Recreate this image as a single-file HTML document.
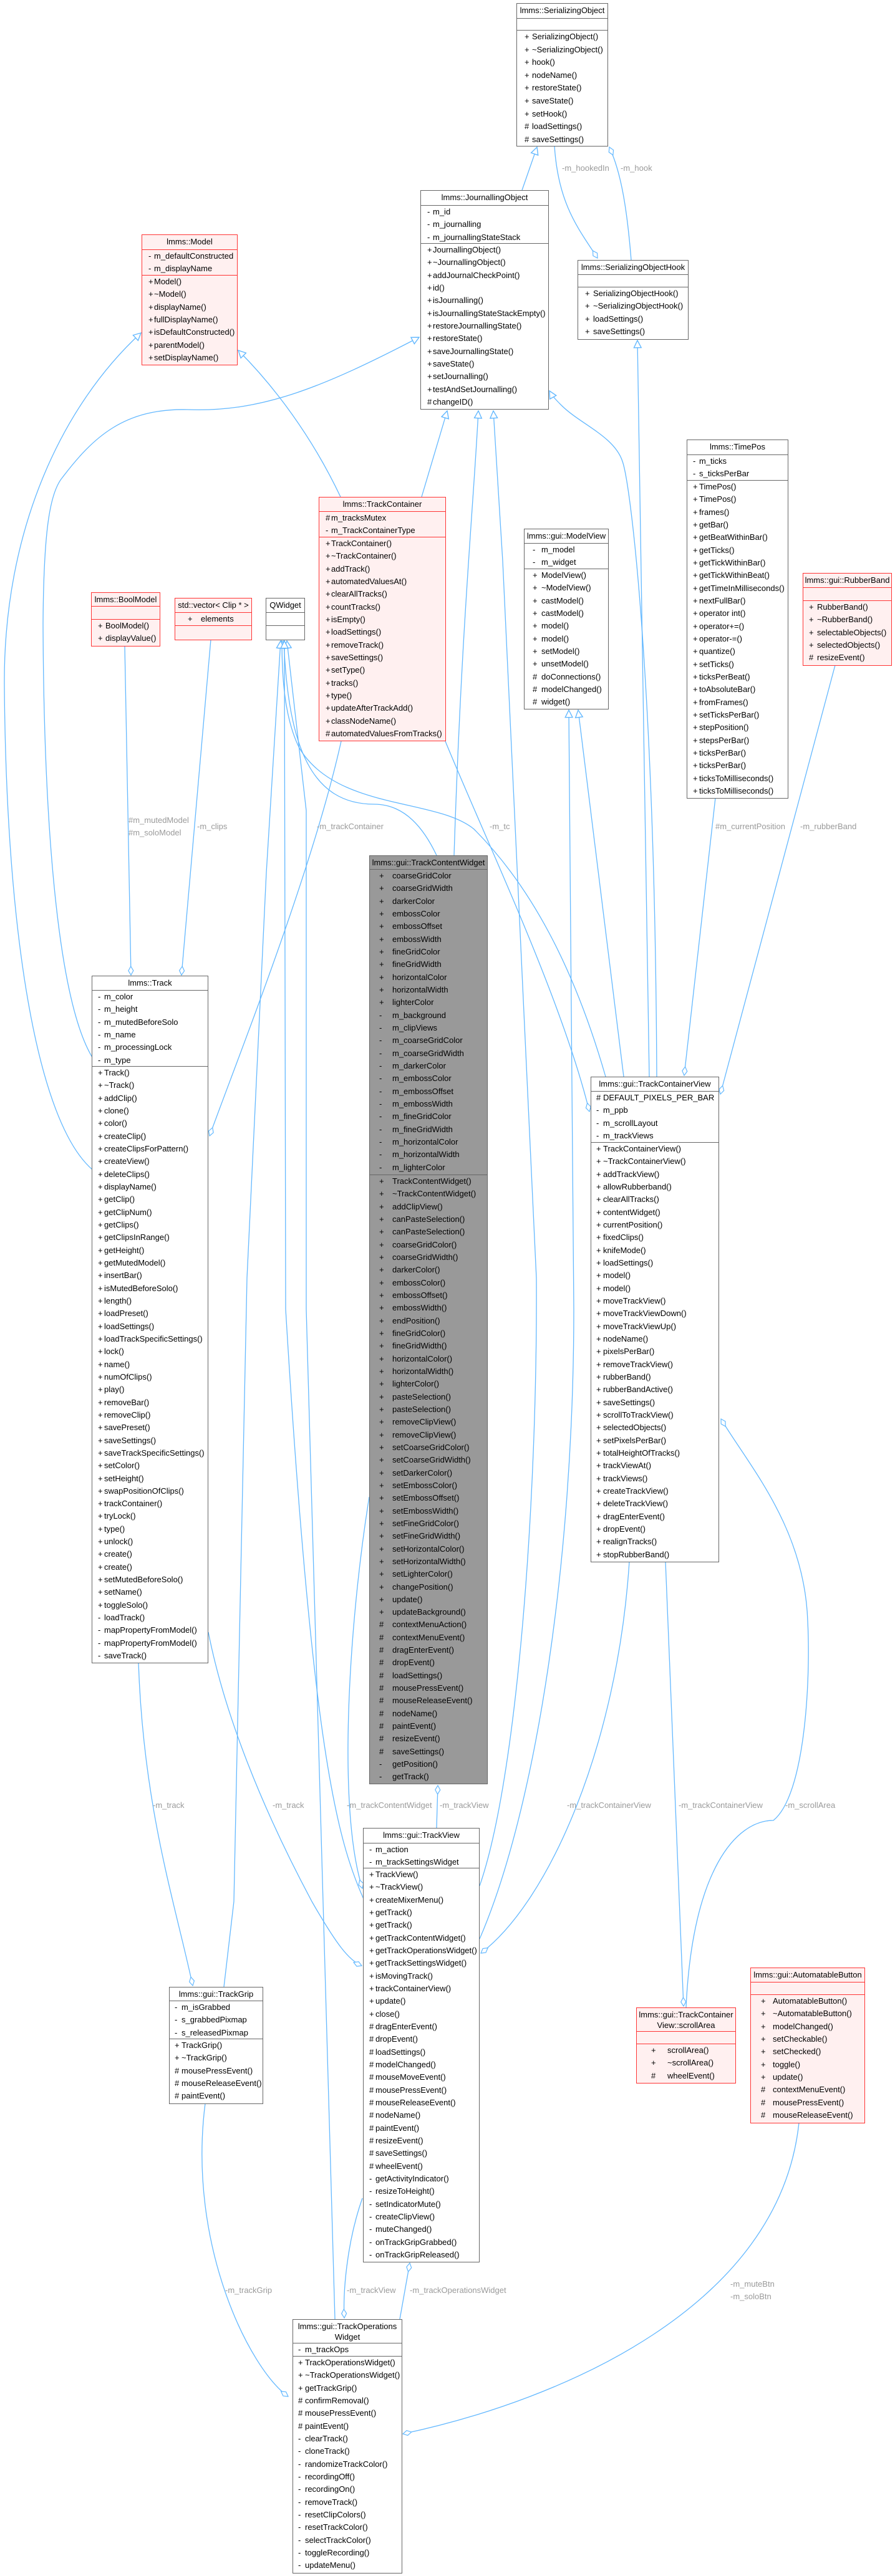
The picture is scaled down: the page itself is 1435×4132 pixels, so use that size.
<!DOCTYPE html>
<html><head><meta charset="utf-8"><style>
html,body{margin:0;padding:0;background:#fff;}
body{width:1435px;height:4132px;position:relative;overflow:hidden;font-family:"Liberation Sans",sans-serif;font-size:13px;color:#000;}
svg{position:absolute;left:0;top:0;}
.b{position:absolute;box-sizing:border-box;border:1.5px solid #666;background:#fff;overflow:hidden;--p:9px;--t:19px;--r:20.33px;}
.red{border-color:#f33;background:#fff0f0;}
.red .h,.red .s{border-color:#f33;}
.gray{background:#999;}
.h{text-align:center;border-bottom:1.5px solid #666;box-sizing:border-box;line-height:21px;white-space:nowrap;}
.s{border-bottom:1.5px solid #666;box-sizing:border-box;}
.s:last-child{border-bottom:none;}
.s div{height:var(--r);line-height:var(--r);white-space:nowrap;position:relative;padding-left:var(--t);}
.s div i{position:absolute;left:var(--p);font-style:normal;}
.lb{position:absolute;color:#9a9a9a;font-size:13px;white-space:nowrap;}
</style></head><body>
<svg width="1435" height="4132" viewBox="0 0 1435 4132">
<defs>
<marker id="tri" viewBox="0 0 12 12" refX="11" refY="6" markerWidth="14" markerHeight="14" markerUnits="userSpaceOnUse" orient="auto"><path d="M1,1 L11,6 L1,11 z" fill="#fff" stroke="#63b8ff" stroke-width="1.2"/></marker>
<marker id="dia" viewBox="0 0 16 10" refX="15" refY="5" markerWidth="16" markerHeight="10" markerUnits="userSpaceOnUse" orient="auto"><path d="M1,5 L8,1 L15,5 L8,9 z" fill="#fff" stroke="#63b8ff" stroke-width="1.2"/></marker>
</defs>
<g fill="none" stroke="#63b8ff" stroke-width="1.3">
<path d="M837,305 L861,236" marker-end="url(#tri)"/>
<path d="M889,234 C895,330 930,370 958,414" marker-end="url(#dia)"/>
<path d="M1012,417 C1005,330 995,275 977,236" marker-end="url(#dia)"/>
<path d="M1041,1727 C1036,1200 1028,800 1022,546" marker-end="url(#tri)"/>
<path d="M1053,1727 C1050,1100 1012,780 998,740 C985,700 930,680 900,650 C892,642 886,636 881,627" marker-end="url(#tri)"/>
<path d="M676,797 L717,659" marker-end="url(#tri)"/>
<path d="M546,797 C500,700 440,620 382,562" marker-end="url(#tri)"/>
<path d="M148,1876 C60,1800 10,1500 7,1100 C5,850 100,650 226,534" marker-end="url(#tri)"/>
<path d="M148,1696 C90,1600 70,1300 69,1000 C70,850 80,790 100,766 C150,700 200,655 300,657 C420,662 520,620 672,541" marker-end="url(#tri)"/>
<path d="M728,1372 C740,1000 760,800 767,659" marker-end="url(#tri)"/>
<path d="M769,3025 C830,2850 862,2400 860,2050 L806,900 L791,659" marker-end="url(#tri)"/>
<path d="M1000,1727 L927,1139" marker-end="url(#tri)"/>
<path d="M769,3110 C860,2900 920,2500 920,2100 L912,1139" marker-end="url(#tri)"/>
<path d="M700,1372 C680,1330 650,1290 600,1290 C500,1290 462,1200 455,1028" marker-end="url(#tri)"/>
<path d="M971,1727 C920,1550 850,1420 760,1330 C700,1280 540,1300 480,1200 C455,1150 452,1080 452,1028" marker-end="url(#tri)"/>
<path d="M359,3187 L375,3050 L396,2050 L427,1400 L450,1028" marker-end="url(#tri)"/>
<path d="M537,3720 L491,2100 L491,1300 L460,1028" marker-end="url(#tri)"/>
<path d="M583,3046 C540,2950 500,2800 458,2100 L456,1028" marker-end="url(#tri)"/>
<path d="M200,1036 L210,1564" marker-end="url(#dia)"/>
<path d="M338,1026 L291,1564" marker-end="url(#dia)"/>
<path d="M547,1189 C500,1400 380,1700 336,1822" marker-end="url(#dia)"/>
<path d="M714,1189 C780,1350 900,1600 945,1783" marker-end="url(#dia)"/>
<path d="M1147,1280 L1097,1725" marker-end="url(#dia)"/>
<path d="M1339,1067 L1155,1755" marker-end="url(#dia)"/>
<path d="M222,2667 C230,2900 280,3050 309,3185" marker-end="url(#dia)"/>
<path d="M334,2618 C360,2750 420,2900 500,3050 C540,3120 560,3145 580,3153" marker-end="url(#dia)"/>
<path d="M592,2401 C560,2600 540,2900 581,3029" marker-end="url(#dia)"/>
<path d="M700,2932 L702,2864" marker-end="url(#dia)"/>
<path d="M1009,2505 C990,2800 880,3050 771,3133" marker-end="url(#dia)"/>
<path d="M1067,2505 L1096,3218" marker-end="url(#dia)"/>
<path d="M1100,3220 C1110,3000 1180,2920 1240,2920 C1290,2880 1300,2700 1295,2600 C1290,2450 1200,2350 1156,2276" marker-end="url(#dia)"/>
<path d="M329,3374 C300,3600 400,3800 462,3844" marker-end="url(#dia)"/>
<path d="M581,3526 C555,3600 550,3680 552,3718" marker-end="url(#dia)"/>
<path d="M641,3720 L657,3630" marker-end="url(#dia)"/>
<path d="M1281,3405 C1250,3700 900,3850 646,3904" marker-end="url(#dia)"/>
</g>
</svg>

<div class="lb" style="left:901px;top:262px">-m_hookedIn</div>
<div class="lb" style="left:995px;top:262px">-m_hook</div>
<div class="lb" style="left:206px;top:1308px">#m_mutedModel</div>
<div class="lb" style="left:206px;top:1328px">#m_soloModel</div>
<div class="lb" style="left:316px;top:1318px">-m_clips</div>
<div class="lb" style="left:508px;top:1318px">-m_trackContainer</div>
<div class="lb" style="left:785px;top:1318px">-m_tc</div>
<div class="lb" style="left:1147px;top:1318px">#m_currentPosition</div>
<div class="lb" style="left:1283px;top:1318px">-m_rubberBand</div>
<div class="lb" style="left:245px;top:2888px">-m_track</div>
<div class="lb" style="left:437px;top:2888px">-m_track</div>
<div class="lb" style="left:556px;top:2888px">-m_trackContentWidget</div>
<div class="lb" style="left:705px;top:2888px">-m_trackView</div>
<div class="lb" style="left:909px;top:2888px">-m_trackContainerView</div>
<div class="lb" style="left:1088px;top:2888px">-m_trackContainerView</div>
<div class="lb" style="left:1259px;top:2888px">-m_scrollArea</div>
<div class="lb" style="left:361px;top:3666px">-m_trackGrip</div>
<div class="lb" style="left:556px;top:3666px">-m_trackView</div>
<div class="lb" style="left:657px;top:3666px">-m_trackOperationsWidget</div>
<div class="lb" style="left:1171px;top:3656px">-m_muteBtn</div>
<div class="lb" style="left:1171px;top:3676px">-m_soloBtn</div>

<!-- SerializingObject -->
<div class="b" style="left:828px;top:5px;width:147px;height:230px;--p:12px;--t:24px;--r:20.6px">
<div class="h" style="height:24px">lmms::SerializingObject</div>
<div class="s" style="height:19px"></div>
<div class="s"><div><i>+</i>SerializingObject()</div><div><i>+</i>~SerializingObject()</div><div><i>+</i>hook()</div><div><i>+</i>nodeName()</div><div><i>+</i>restoreState()</div><div><i>+</i>saveState()</div><div><i>+</i>setHook()</div><div><i>#</i>loadSettings()</div><div><i>#</i>saveSettings()</div></div>
</div>

<!-- JournallingObject -->
<div class="b" style="left:674px;top:305px;width:206px;height:352px;--p:10px;--t:19px">
<div class="h" style="height:24px">lmms::JournallingObject</div>
<div class="s" style="height:61px"><div><i>-</i>m_id</div><div><i>-</i>m_journalling</div><div><i>-</i>m_journallingStateStack</div></div>
<div class="s"><div><i>+</i>JournallingObject()</div><div><i>+</i>~JournallingObject()</div><div><i>+</i>addJournalCheckPoint()</div><div><i>+</i>id()</div><div><i>+</i>isJournalling()</div><div><i>+</i>isJournallingStateStackEmpty()</div><div><i>+</i>restoreJournallingState()</div><div><i>+</i>restoreState()</div><div><i>+</i>saveJournallingState()</div><div><i>+</i>saveState()</div><div><i>+</i>setJournalling()</div><div><i>+</i>testAndSetJournalling()</div><div><i>#</i>changeID()</div></div>
</div>

<!-- SerializingObjectHook -->
<div class="b" style="left:926px;top:417px;width:178px;height:128px;--p:11px;--t:24px">
<div class="h" style="height:23px">lmms::SerializingObjectHook</div>
<div class="s" style="height:20px"></div>
<div class="s"><div><i>+</i>SerializingObjectHook()</div><div><i>+</i>~SerializingObjectHook()</div><div><i>+</i>loadSettings()</div><div><i>+</i>saveSettings()</div></div>
</div>

<!-- Model -->
<div class="b red" style="left:227px;top:376px;width:154px;height:210px;--p:10px;--t:19px">
<div class="h" style="height:24px">lmms::Model</div>
<div class="s" style="height:41px"><div><i>-</i>m_defaultConstructed</div><div><i>-</i>m_displayName</div></div>
<div class="s"><div><i>+</i>Model()</div><div><i>+</i>~Model()</div><div><i>+</i>displayName()</div><div><i>+</i>fullDisplayName()</div><div><i>+</i>isDefaultConstructed()</div><div><i>+</i>parentModel()</div><div><i>+</i>setDisplayName()</div></div>
</div>

<!-- TrackContainer -->
<div class="b red" style="left:511px;top:797px;width:204px;height:392px;--p:10px;--t:19px">
<div class="h" style="height:23px">lmms::TrackContainer</div>
<div class="s" style="height:41px"><div><i>#</i>m_tracksMutex</div><div><i>-</i>m_TrackContainerType</div></div>
<div class="s"><div><i>+</i>TrackContainer()</div><div><i>+</i>~TrackContainer()</div><div><i>+</i>addTrack()</div><div><i>+</i>automatedValuesAt()</div><div><i>+</i>clearAllTracks()</div><div><i>+</i>countTracks()</div><div><i>+</i>isEmpty()</div><div><i>+</i>loadSettings()</div><div><i>+</i>removeTrack()</div><div><i>+</i>saveSettings()</div><div><i>+</i>setType()</div><div><i>+</i>tracks()</div><div><i>+</i>type()</div><div><i>+</i>updateAfterTrackAdd()</div><div><i>+</i>classNodeName()</div><div><i>#</i>automatedValuesFromTracks()</div></div>
</div>

<!-- BoolModel -->
<div class="b red" style="left:146px;top:950px;width:111px;height:87px;--p:10px;--t:22px">
<div class="h" style="height:22px">lmms::BoolModel</div>
<div class="s" style="height:21px"></div>
<div class="s"><div><i>+</i>BoolModel()</div><div><i>+</i>displayValue()</div></div>
</div>

<!-- vector -->
<div class="b red" style="left:280px;top:959px;width:124px;height:68px;--p:20px;--t:41px">
<div class="h" style="height:23px">std::vector&lt; Clip * &gt;</div>
<div class="s" style="height:21px"><div><i>+</i>elements</div></div>
<div class="s"></div>
</div>

<!-- QWidget -->
<div class="b" style="left:426px;top:959px;width:63px;height:68px">
<div class="h" style="height:23px">QWidget</div>
<div class="s" style="height:21px"></div>
<div class="s"></div>
</div>

<!-- ModelView -->
<div class="b" style="left:840px;top:848px;width:136px;height:290px;--p:13px;--t:27px">
<div class="h" style="height:23px">lmms::gui::ModelView</div>
<div class="s" style="height:41px"><div><i>-</i>m_model</div><div><i>-</i>m_widget</div></div>
<div class="s"><div><i>+</i>ModelView()</div><div><i>+</i>~ModelView()</div><div><i>+</i>castModel()</div><div><i>+</i>castModel()</div><div><i>+</i>model()</div><div><i>+</i>model()</div><div><i>+</i>setModel()</div><div><i>+</i>unsetModel()</div><div><i>#</i>doConnections()</div><div><i>#</i>modelChanged()</div><div><i>#</i>widget()</div></div>
</div>

<!-- TimePos -->
<div class="b" style="left:1101px;top:705px;width:163px;height:576px;--p:9px;--t:19px">
<div class="h" style="height:24px">lmms::TimePos</div>
<div class="s" style="height:41px"><div><i>-</i>m_ticks</div><div><i>-</i>s_ticksPerBar</div></div>
<div class="s"><div><i>+</i>TimePos()</div><div><i>+</i>TimePos()</div><div><i>+</i>frames()</div><div><i>+</i>getBar()</div><div><i>+</i>getBeatWithinBar()</div><div><i>+</i>getTicks()</div><div><i>+</i>getTickWithinBar()</div><div><i>+</i>getTickWithinBeat()</div><div><i>+</i>getTimeInMilliseconds()</div><div><i>+</i>nextFullBar()</div><div><i>+</i>operator int()</div><div><i>+</i>operator+=()</div><div><i>+</i>operator-=()</div><div><i>+</i>quantize()</div><div><i>+</i>setTicks()</div><div><i>+</i>ticksPerBeat()</div><div><i>+</i>toAbsoluteBar()</div><div><i>+</i>fromFrames()</div><div><i>+</i>setTicksPerBar()</div><div><i>+</i>stepPosition()</div><div><i>+</i>stepsPerBar()</div><div><i>+</i>ticksPerBar()</div><div><i>+</i>ticksPerBar()</div><div><i>+</i>ticksToMilliseconds()</div><div><i>+</i>ticksToMilliseconds()</div></div>
</div>

<!-- RubberBand -->
<div class="b red" style="left:1287px;top:919px;width:143px;height:149px;--p:9px;--t:22px">
<div class="h" style="height:23px">lmms::gui::RubberBand</div>
<div class="s" style="height:21px"></div>
<div class="s"><div><i>+</i>RubberBand()</div><div><i>+</i>~RubberBand()</div><div><i>+</i>selectableObjects()</div><div><i>+</i>selectedObjects()</div><div><i>#</i>resizeEvent()</div></div>
</div>

<!-- TrackContentWidget -->
<div class="b gray" style="left:592px;top:1372px;width:190px;height:1490px;--p:15px;--t:36px">
<div class="h" style="height:22px">lmms::gui::TrackContentWidget</div>
<div class="s" style="height:490px"><div><i>+</i>coarseGridColor</div><div><i>+</i>coarseGridWidth</div><div><i>+</i>darkerColor</div><div><i>+</i>embossColor</div><div><i>+</i>embossOffset</div><div><i>+</i>embossWidth</div><div><i>+</i>fineGridColor</div><div><i>+</i>fineGridWidth</div><div><i>+</i>horizontalColor</div><div><i>+</i>horizontalWidth</div><div><i>+</i>lighterColor</div><div><i>-</i>m_background</div><div><i>-</i>m_clipViews</div><div><i>-</i>m_coarseGridColor</div><div><i>-</i>m_coarseGridWidth</div><div><i>-</i>m_darkerColor</div><div><i>-</i>m_embossColor</div><div><i>-</i>m_embossOffset</div><div><i>-</i>m_embossWidth</div><div><i>-</i>m_fineGridColor</div><div><i>-</i>m_fineGridWidth</div><div><i>-</i>m_horizontalColor</div><div><i>-</i>m_horizontalWidth</div><div><i>-</i>m_lighterColor</div></div>
<div class="s"><div><i>+</i>TrackContentWidget()</div><div><i>+</i>~TrackContentWidget()</div><div><i>+</i>addClipView()</div><div><i>+</i>canPasteSelection()</div><div><i>+</i>canPasteSelection()</div><div><i>+</i>coarseGridColor()</div><div><i>+</i>coarseGridWidth()</div><div><i>+</i>darkerColor()</div><div><i>+</i>embossColor()</div><div><i>+</i>embossOffset()</div><div><i>+</i>embossWidth()</div><div><i>+</i>endPosition()</div><div><i>+</i>fineGridColor()</div><div><i>+</i>fineGridWidth()</div><div><i>+</i>horizontalColor()</div><div><i>+</i>horizontalWidth()</div><div><i>+</i>lighterColor()</div><div><i>+</i>pasteSelection()</div><div><i>+</i>pasteSelection()</div><div><i>+</i>removeClipView()</div><div><i>+</i>removeClipView()</div><div><i>+</i>setCoarseGridColor()</div><div><i>+</i>setCoarseGridWidth()</div><div><i>+</i>setDarkerColor()</div><div><i>+</i>setEmbossColor()</div><div><i>+</i>setEmbossOffset()</div><div><i>+</i>setEmbossWidth()</div><div><i>+</i>setFineGridColor()</div><div><i>+</i>setFineGridWidth()</div><div><i>+</i>setHorizontalColor()</div><div><i>+</i>setHorizontalWidth()</div><div><i>+</i>setLighterColor()</div><div><i>+</i>changePosition()</div><div><i>+</i>update()</div><div><i>+</i>updateBackground()</div><div><i>#</i>contextMenuAction()</div><div><i>#</i>contextMenuEvent()</div><div><i>#</i>dragEnterEvent()</div><div><i>#</i>dropEvent()</div><div><i>#</i>loadSettings()</div><div><i>#</i>mousePressEvent()</div><div><i>#</i>mouseReleaseEvent()</div><div><i>#</i>nodeName()</div><div><i>#</i>paintEvent()</div><div><i>#</i>resizeEvent()</div><div><i>#</i>saveSettings()</div><div><i>-</i>getPosition()</div><div><i>-</i>getTrack()</div></div>
</div>

<!-- Track -->
<div class="b" style="left:147px;top:1565px;width:187px;height:1103px;--p:9px;--t:19px">
<div class="h" style="height:23px">lmms::Track</div>
<div class="s" style="height:122px"><div><i>-</i>m_color</div><div><i>-</i>m_height</div><div><i>-</i>m_mutedBeforeSolo</div><div><i>-</i>m_name</div><div><i>-</i>m_processingLock</div><div><i>-</i>m_type</div></div>
<div class="s"><div><i>+</i>Track()</div><div><i>+</i>~Track()</div><div><i>+</i>addClip()</div><div><i>+</i>clone()</div><div><i>+</i>color()</div><div><i>+</i>createClip()</div><div><i>+</i>createClipsForPattern()</div><div><i>+</i>createView()</div><div><i>+</i>deleteClips()</div><div><i>+</i>displayName()</div><div><i>+</i>getClip()</div><div><i>+</i>getClipNum()</div><div><i>+</i>getClips()</div><div><i>+</i>getClipsInRange()</div><div><i>+</i>getHeight()</div><div><i>+</i>getMutedModel()</div><div><i>+</i>insertBar()</div><div><i>+</i>isMutedBeforeSolo()</div><div><i>+</i>length()</div><div><i>+</i>loadPreset()</div><div><i>+</i>loadSettings()</div><div><i>+</i>loadTrackSpecificSettings()</div><div><i>+</i>lock()</div><div><i>+</i>name()</div><div><i>+</i>numOfClips()</div><div><i>+</i>play()</div><div><i>+</i>removeBar()</div><div><i>+</i>removeClip()</div><div><i>+</i>savePreset()</div><div><i>+</i>saveSettings()</div><div><i>+</i>saveTrackSpecificSettings()</div><div><i>+</i>setColor()</div><div><i>+</i>setHeight()</div><div><i>+</i>swapPositionOfClips()</div><div><i>+</i>trackContainer()</div><div><i>+</i>tryLock()</div><div><i>+</i>type()</div><div><i>+</i>unlock()</div><div><i>+</i>create()</div><div><i>+</i>create()</div><div><i>+</i>setMutedBeforeSolo()</div><div><i>+</i>setName()</div><div><i>+</i>toggleSolo()</div><div><i>-</i>loadTrack()</div><div><i>-</i>mapPropertyFromModel()</div><div><i>-</i>mapPropertyFromModel()</div><div><i>-</i>saveTrack()</div></div>
</div>

<!-- TrackContainerView -->
<div class="b" style="left:947px;top:1727px;width:206px;height:779px;--p:8px;--t:19px">
<div class="h" style="height:23px">lmms::gui::TrackContainerView</div>
<div class="s" style="height:82px"><div><i>#</i>DEFAULT_PIXELS_PER_BAR</div><div><i>-</i>m_ppb</div><div><i>-</i>m_scrollLayout</div><div><i>-</i>m_trackViews</div></div>
<div class="s"><div><i>+</i>TrackContainerView()</div><div><i>+</i>~TrackContainerView()</div><div><i>+</i>addTrackView()</div><div><i>+</i>allowRubberband()</div><div><i>+</i>clearAllTracks()</div><div><i>+</i>contentWidget()</div><div><i>+</i>currentPosition()</div><div><i>+</i>fixedClips()</div><div><i>+</i>knifeMode()</div><div><i>+</i>loadSettings()</div><div><i>+</i>model()</div><div><i>+</i>model()</div><div><i>+</i>moveTrackView()</div><div><i>+</i>moveTrackViewDown()</div><div><i>+</i>moveTrackViewUp()</div><div><i>+</i>nodeName()</div><div><i>+</i>pixelsPerBar()</div><div><i>+</i>removeTrackView()</div><div><i>+</i>rubberBand()</div><div><i>+</i>rubberBandActive()</div><div><i>+</i>saveSettings()</div><div><i>+</i>scrollToTrackView()</div><div><i>+</i>selectedObjects()</div><div><i>+</i>setPixelsPerBar()</div><div><i>+</i>totalHeightOfTracks()</div><div><i>+</i>trackViewAt()</div><div><i>+</i>trackViews()</div><div><i>+</i>createTrackView()</div><div><i>+</i>deleteTrackView()</div><div><i>+</i>dragEnterEvent()</div><div><i>+</i>dropEvent()</div><div><i>+</i>realignTracks()</div><div><i>+</i>stopRubberBand()</div></div>
</div>

<!-- TrackView -->
<div class="b" style="left:582px;top:2932px;width:187px;height:697px;--p:9px;--t:19px">
<div class="h" style="height:24px">lmms::gui::TrackView</div>
<div class="s" style="height:40px"><div><i>-</i>m_action</div><div><i>-</i>m_trackSettingsWidget</div></div>
<div class="s"><div><i>+</i>TrackView()</div><div><i>+</i>~TrackView()</div><div><i>+</i>createMixerMenu()</div><div><i>+</i>getTrack()</div><div><i>+</i>getTrack()</div><div><i>+</i>getTrackContentWidget()</div><div><i>+</i>getTrackOperationsWidget()</div><div><i>+</i>getTrackSettingsWidget()</div><div><i>+</i>isMovingTrack()</div><div><i>+</i>trackContainerView()</div><div><i>+</i>update()</div><div><i>+</i>close()</div><div><i>#</i>dragEnterEvent()</div><div><i>#</i>dropEvent()</div><div><i>#</i>loadSettings()</div><div><i>#</i>modelChanged()</div><div><i>#</i>mouseMoveEvent()</div><div><i>#</i>mousePressEvent()</div><div><i>#</i>mouseReleaseEvent()</div><div><i>#</i>nodeName()</div><div><i>#</i>paintEvent()</div><div><i>#</i>resizeEvent()</div><div><i>#</i>saveSettings()</div><div><i>#</i>wheelEvent()</div><div><i>-</i>getActivityIndicator()</div><div><i>-</i>resizeToHeight()</div><div><i>-</i>setIndicatorMute()</div><div><i>-</i>createClipView()</div><div><i>-</i>muteChanged()</div><div><i>-</i>onTrackGripGrabbed()</div><div><i>-</i>onTrackGripReleased()</div></div>
</div>

<!-- TrackGrip -->
<div class="b" style="left:271px;top:3187px;width:151px;height:188px;--p:8px;--t:19px">
<div class="h" style="height:22px">lmms::gui::TrackGrip</div>
<div class="s" style="height:61px"><div><i>-</i>m_isGrabbed</div><div><i>-</i>s_grabbedPixmap</div><div><i>-</i>s_releasedPixmap</div></div>
<div class="s"><div><i>+</i>TrackGrip()</div><div><i>+</i>~TrackGrip()</div><div><i>#</i>mousePressEvent()</div><div><i>#</i>mouseReleaseEvent()</div><div><i>#</i>paintEvent()</div></div>
</div>

<!-- scrollArea -->
<div class="b red" style="left:1020px;top:3220px;width:160px;height:122px;--p:23px;--t:49px">
<div class="h" style="height:38px;line-height:17px;padding-top:2px">lmms::gui::TrackContainer<br>View::scrollArea</div>
<div class="s" style="height:20px"></div>
<div class="s"><div><i>+</i>scrollArea()</div><div><i>+</i>~scrollArea()</div><div><i>#</i>wheelEvent()</div></div>
</div>

<!-- AutomatableButton -->
<div class="b red" style="left:1203px;top:3156px;width:184px;height:250px;--p:16px;--t:35px">
<div class="h" style="height:23px">lmms::gui::AutomatableButton</div>
<div class="s" style="height:20px"></div>
<div class="s"><div><i>+</i>AutomatableButton()</div><div><i>+</i>~AutomatableButton()</div><div><i>+</i>modelChanged()</div><div><i>+</i>setCheckable()</div><div><i>+</i>setChecked()</div><div><i>+</i>toggle()</div><div><i>+</i>update()</div><div><i>#</i>contextMenuEvent()</div><div><i>#</i>mousePressEvent()</div><div><i>#</i>mouseReleaseEvent()</div></div>
</div>

<!-- TrackOperationsWidget -->
<div class="b" style="left:469px;top:3720px;width:176px;height:408px;--p:8px;--t:19px">
<div class="h" style="height:38px;line-height:17px;padding-top:2px">lmms::gui::TrackOperations<br>Widget</div>
<div class="s" style="height:21px"><div><i>-</i>m_trackOps</div></div>
<div class="s"><div><i>+</i>TrackOperationsWidget()</div><div><i>+</i>~TrackOperationsWidget()</div><div><i>+</i>getTrackGrip()</div><div><i>#</i>confirmRemoval()</div><div><i>#</i>mousePressEvent()</div><div><i>#</i>paintEvent()</div><div><i>-</i>clearTrack()</div><div><i>-</i>cloneTrack()</div><div><i>-</i>randomizeTrackColor()</div><div><i>-</i>recordingOff()</div><div><i>-</i>recordingOn()</div><div><i>-</i>removeTrack()</div><div><i>-</i>resetClipColors()</div><div><i>-</i>resetTrackColor()</div><div><i>-</i>selectTrackColor()</div><div><i>-</i>toggleRecording()</div><div><i>-</i>updateMenu()</div></div>
</div>

</body></html>
